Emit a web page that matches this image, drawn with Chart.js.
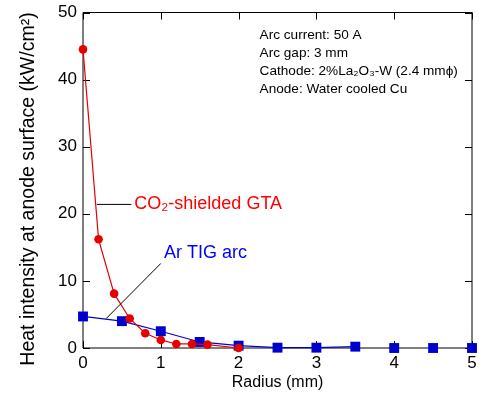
<!DOCTYPE html>
<html>
<head>
<meta charset="utf-8">
<script src="https://cdn.jsdelivr.net/npm/chart.js@4"></script>
<style>
  html, body { margin: 0; padding: 0; background: #fff; }
  #wrap { width: 479px; height: 396px; }
</style>
</head>
<body>
<div id="wrap"><canvas id="c" width="479" height="396"></canvas></div>
<script>
// data
const co2Radius = [0, 0.2, 0.4, 0.6, 0.8, 1.0, 1.2, 1.4, 1.6, 2.0];
const co2Heat = [44.5, 16.2, 8.1, 4.4, 2.2, 1.2, 0.6, 0.6, 0.5, 0.0];
const arRadius = [0, 0.5, 1.0, 1.5, 2.0, 2.5, 3.0, 3.5, 4.0, 4.5, 5.0];
const arHeat = [4.7, 4.0, 2.5, 0.9, 0.35, 0.05, 0.05, 0.2, 0, 0, 0];
const xTicks = [0, 1, 2, 3, 4, 5];
const yTicks = [0, 10, 20, 30, 40, 50];

const infoLines = ['Arc current: 50 A', 'Arc gap: 3 mm', 'Cathode: 2%La\u2082O\u2083-W (2.4 mm\u03d5)', 'Anode: Water cooled Cu'];

const RED = '#e60000';
const BLUE = '#0000cc';
const FONT = '"Liberation Sans", Arial, sans-serif';

// annotation anchors, in data units
const notes = {
  co2: { text: 'CO\u2082-shielded GTA', x: 0.66, y: 21.4, lead: [0.178, 21.4, 0.622, 21.4], color: '#ff0000' },
  ar: { text: 'Ar TIG arc', x: 1.04, y: 14.1, lead: [0.299, 4.4, 1.0, 12.6], color: '#0000ff' },
  info: { x: 2.27, y: 46.6, step: 2.7 }
};

const pts = (xs, ys) => xs.map((x, i) => ({ x: x, y: ys[i] }));

// frame with inward ticks, drawn under the markers
const framePlugin = {
  id: 'frame',
  beforeDatasetsDraw(chart) {
    const { ctx, chartArea: a, scales } = chart;
    const xs = scales.x, ys = scales.y;
    const tl = 7;
    ctx.save();
    ctx.strokeStyle = '#000';
    ctx.lineWidth = 1;
    ctx.beginPath();
    ctx.rect(a.left, a.top, a.right - a.left, a.bottom - a.top);
    xTicks.forEach(v => {
      const p = Math.round(xs.getPixelForValue(v)) + 0.5;
      ctx.moveTo(p, a.top); ctx.lineTo(p, a.top + tl);
      ctx.moveTo(p, a.bottom); ctx.lineTo(p, a.bottom - tl);
    });
    yTicks.forEach(v => {
      const p = Math.round(ys.getPixelForValue(v)) + 0.5;
      ctx.moveTo(a.left, p); ctx.lineTo(a.left + tl, p);
      ctx.moveTo(a.right, p); ctx.lineTo(a.right - tl, p);
    });
    ctx.stroke();
    ctx.restore();
  }
};

const notesPlugin = {
  id: 'notes',
  afterDatasetsDraw(chart) {
    const { ctx, scales } = chart;
    const X = v => scales.x.getPixelForValue(v);
    const Y = v => scales.y.getPixelForValue(v);
    ctx.save();
    ctx.strokeStyle = '#000';
    ctx.lineWidth = 1;
    [notes.co2, notes.ar].forEach(n => {
      ctx.beginPath();
      ctx.moveTo(X(n.lead[0]), Y(n.lead[1]));
      ctx.lineTo(X(n.lead[2]), Y(n.lead[3]));
      ctx.stroke();
      ctx.fillStyle = n.color;
      ctx.font = '18px ' + FONT;
      ctx.textBaseline = 'middle';
      ctx.textAlign = 'left';
      ctx.fillText(n.text, X(n.x), Y(n.y));
    });
    ctx.fillStyle = '#000';
    ctx.font = '13.6px ' + FONT;
    infoLines.forEach((t, i) => {
      ctx.fillText(t, X(notes.info.x), Y(notes.info.y - i * notes.info.step));
    });
    // y axis title
    ctx.translate(29, 189);
    ctx.rotate(-Math.PI / 2);
    ctx.textAlign = 'center';
    ctx.font = '19.5px ' + FONT;
    ctx.fillText('Heat intensity at anode surface (kW/cm\u00b2)', 0, 0);
    ctx.restore();
  }
};

new Chart(document.getElementById('c'), {
  type: 'scatter',
  data: {
    datasets: [
      {
        label: 'CO2-shielded GTA',
        data: pts(co2Radius, co2Heat),
        showLine: true,
        borderColor: RED,
        backgroundColor: RED,
        borderWidth: 1.2,
        pointStyle: 'circle',
        pointRadius: 4.3,
        pointBorderWidth: 0,
        clip: false
      },
      {
        label: 'Ar TIG arc',
        data: pts(arRadius, arHeat),
        showLine: true,
        borderColor: BLUE,
        backgroundColor: BLUE,
        borderWidth: 1.2,
        pointStyle: 'rect',
        pointRadius: 7,
        pointBorderWidth: 0,
        segment: { borderColor: c => c.p0DataIndex >= 7 ? 'transparent' : BLUE },
        clip: false
      }
    ]
  },
  options: {
    responsive: false,
    animation: false,
    events: [],
    layout: { padding: { top: 12.5, right: 2, left: 0, bottom: 0 } },
    plugins: { legend: { display: false }, tooltip: { enabled: false } },
    scales: {
      x: {
        type: 'linear', min: 0, max: 5,
        grid: { display: false, drawTicks: false },
        border: { display: false },
        afterBuildTicks: s => { s.ticks = xTicks.map(v => ({ value: v })); },
        ticks: { color: '#000', padding: 5, maxRotation: 0, font: { family: FONT, size: 17 } },
        title: { display: true, text: 'Radius (mm)', color: '#000', padding: { top: 4, bottom: 4 }, font: { family: FONT, size: 16 } },
        afterFit: s => { s.height = 48; s.paddingLeft = 0; s.paddingRight = 0; }
      },
      y: {
        type: 'linear', min: 0, max: 50,
        grid: { display: false, drawTicks: false },
        border: { display: false },
        afterBuildTicks: s => { s.ticks = yTicks.map(v => ({ value: v })); },
        ticks: { color: '#000', padding: 6, font: { family: FONT, size: 17 } },
        afterFit: s => { s.width = 83; s.paddingTop = 0; s.paddingBottom = 0; }
      }
    }
  },
  plugins: [framePlugin, notesPlugin]
});
</script>
</body>
</html>
